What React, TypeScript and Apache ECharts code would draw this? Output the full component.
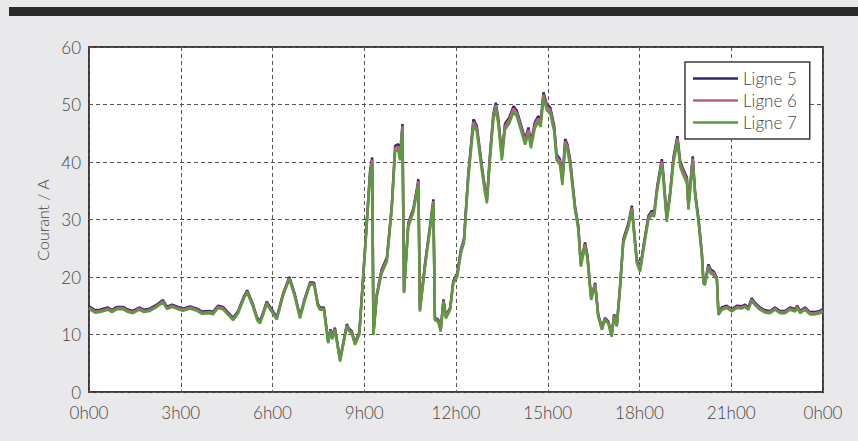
import React, { useEffect, useRef } from "react";
import * as echarts from "echarts";

const xTickLabels = ["0h00", "3h00", "6h00", "9h00", "12h00", "15h00", "18h00", "21h00", "0h00"];
const seriesNames = ["Ligne 5", "Ligne 6", "Ligne 7"];

const times = [
  0.00,0.20,0.36,0.62,0.75,0.92,1.11,1.28,1.44,1.64,
  1.80,1.99,2.19,2.42,2.55,2.71,2.91,3.07,3.30,3.53,
  3.70,3.96,4.05,4.22,4.38,4.55,4.71,4.87,5.07,5.17,
  5.35,5.50,5.59,5.70,5.81,5.97,6.14,6.35,6.55,6.72,
  6.90,7.05,7.23,7.36,7.48,7.55,7.68,7.82,7.90,7.96,
  8.04,8.21,8.43,8.50,8.59,8.70,8.84,9.03,9.19,9.26,
  9.30,9.41,9.57,9.74,9.90,10.01,10.11,10.17,10.25,10.30,
  10.44,10.60,10.72,10.77,10.82,10.99,11.15,11.26,11.31,11.42,
  11.50,11.59,11.67,11.81,11.91,12.04,12.16,12.26,12.40,12.57,
  12.68,12.84,12.95,13.01,13.11,13.22,13.30,13.38,13.50,13.60,
  13.74,13.88,13.99,14.09,14.26,14.37,14.45,14.58,14.69,14.77,
  14.86,14.97,15.08,15.21,15.29,15.40,15.48,15.57,15.64,15.73,
  15.89,16.00,16.08,16.22,16.30,16.38,16.42,16.55,16.65,16.77,
  16.87,16.98,17.09,17.17,17.26,17.36,17.47,17.64,17.75,17.82,
  17.91,18.02,18.13,18.29,18.40,18.48,18.58,18.73,18.78,18.89,
  19.00,19.11,19.24,19.33,19.41,19.55,19.60,19.74,19.82,19.93,
  20.04,20.09,20.14,20.25,20.33,20.42,20.53,20.58,20.69,20.85,
  21.02,21.18,21.34,21.45,21.56,21.67,21.78,21.94,22.11,22.27,
  22.43,22.60,22.76,22.92,23.09,23.16,23.25,23.41,23.57,23.74,
  23.90,24.00,
];

const ligne5 = [
  14.9,14.2,14.3,14.7,14.3,14.8,14.8,14.3,14.1,14.7,
  14.3,14.5,15.1,16.0,14.8,15.2,14.8,14.5,14.9,14.5,
  14.0,14.1,13.9,15.0,14.8,13.8,12.9,14.0,16.7,17.7,
  15.4,12.9,12.3,13.9,15.7,14.4,13.0,17.2,20.0,17.2,
  13.2,16.2,19.1,19.0,15.4,14.7,14.7,8.9,10.9,9.6,
  11.2,5.7,11.8,11.0,10.6,8.6,10.4,25.4,38.4,40.8,
  10.3,17.0,21.3,23.4,32.4,42.8,43.1,41.3,46.6,17.6,
  29.4,31.8,35.3,37.0,14.4,22.5,28.9,33.5,12.9,12.6,
  10.9,16.1,13.2,14.7,19.3,20.7,24.8,26.6,37.9,47.4,
  46.3,39.6,35.3,33.5,41.3,48.3,50.3,47.7,41.3,46.6,
  47.7,49.7,48.9,47.1,44.0,46.0,43.4,46.9,48.0,47.1,
  52.1,50.0,49.5,46.3,41.3,40.5,37.0,44.0,43.1,40.5,
  32.4,28.9,22.5,26.0,23.7,18.7,16.4,19.0,13.5,11.2,
  12.9,12.3,10.0,13.5,11.8,18.1,26.6,29.4,32.4,28.3,
  23.1,21.6,25.4,30.6,31.5,31.2,35.8,40.5,37.9,30.3,
  34.7,40.8,44.5,40.2,39.0,37.3,32.4,41.0,34.7,30.2,
  24.2,19.3,19.0,22.2,21.3,21.0,19.9,13.8,14.7,15.0,
  14.4,15.0,14.9,15.2,14.7,16.3,15.5,14.7,14.2,14.1,
  14.7,14.1,14.1,14.7,14.4,15.0,14.1,14.7,13.9,13.9,
  14.1,14.4,
];

const ligne6 = [
  14.7,14.0,14.1,14.5,14.1,14.6,14.6,14.1,13.9,14.5,
  14.1,14.3,14.9,15.8,14.6,15.0,14.6,14.3,14.7,14.3,
  13.8,13.9,13.7,14.8,14.6,13.6,12.7,13.8,16.5,17.5,
  15.2,12.7,12.1,13.7,15.5,14.2,12.8,17.0,19.8,17.0,
  13.0,16.0,18.9,18.8,15.2,14.5,14.5,8.7,10.7,9.4,
  11.0,5.5,11.6,10.8,10.4,8.4,10.2,25.1,38.0,40.4,
  10.1,16.8,21.0,23.1,32.1,42.4,42.7,40.9,46.2,17.4,
  29.1,31.5,35.0,36.6,14.2,22.2,28.6,33.2,12.7,12.4,
  10.7,15.9,13.0,14.5,19.1,20.4,24.5,26.3,37.5,47.0,
  45.9,39.2,35.0,33.2,40.9,47.9,49.9,47.3,40.9,46.2,
  47.3,49.3,48.5,46.7,43.6,45.6,43.0,46.5,47.6,46.7,
  51.7,49.6,49.1,45.9,40.9,40.1,36.6,43.6,42.7,40.1,
  32.1,28.6,22.2,25.7,23.4,18.5,16.2,18.8,13.3,11.0,
  12.7,12.1,9.8,13.3,11.6,17.9,26.3,29.1,32.1,28.0,
  22.8,21.3,25.1,30.3,31.2,30.9,35.5,40.1,37.5,30.0,
  34.4,40.4,44.1,39.8,38.6,36.9,32.1,40.6,34.4,29.9,
  23.9,19.1,18.8,21.9,21.0,20.7,19.7,13.6,14.5,14.8,
  14.2,14.8,14.7,15.0,14.5,16.1,15.3,14.5,14.0,13.9,
  14.5,13.9,13.9,14.5,14.2,14.8,13.9,14.5,13.7,13.7,
  13.9,14.2,
];

const ligne7 = [
  14.5,13.8,13.9,14.3,13.9,14.4,14.4,13.9,13.7,14.3,
  13.9,14.1,14.7,15.6,14.4,14.8,14.4,14.1,14.5,14.1,
  13.6,13.7,13.5,14.6,14.4,13.4,12.5,13.6,16.3,17.3,
  15.0,12.5,11.9,13.5,15.3,14.0,12.6,16.8,19.6,16.8,
  12.8,15.8,18.7,18.6,15.0,14.3,14.3,8.5,10.5,9.2,
  10.8,5.3,11.4,10.6,10.2,8.2,10.0,24.7,37.4,39.8,
  9.9,16.6,20.6,22.7,31.7,41.8,42.1,40.3,45.6,17.2,
  28.7,31.1,34.6,36.0,14.0,21.8,28.2,32.8,12.5,12.2,
  10.5,15.7,12.8,14.3,18.9,20.0,24.1,25.9,36.9,46.4,
  45.3,38.6,34.6,32.8,40.3,47.3,49.3,46.7,40.3,45.6,
  46.7,48.7,47.9,46.1,43.0,45.0,42.4,45.9,47.0,46.1,
  51.1,49.0,48.5,45.3,40.3,39.5,36.0,43.0,42.1,39.5,
  31.7,28.2,21.8,25.3,23.0,18.3,16.0,18.6,13.1,10.8,
  12.5,11.9,9.6,13.1,11.4,17.7,25.9,28.7,31.7,27.6,
  22.4,20.9,24.7,29.9,30.8,30.5,35.1,39.5,36.9,29.6,
  34.0,39.8,43.5,39.2,38.0,36.3,31.7,40.0,34.0,29.5,
  23.5,18.9,18.6,21.5,20.6,20.3,19.5,13.4,14.3,14.6,
  14.0,14.6,14.5,14.8,14.3,15.9,15.1,14.3,13.8,13.7,
  14.3,13.7,13.7,14.3,14.0,14.6,13.7,14.3,13.5,13.5,
  13.7,14.0,
];

const seriesColors = ["#2b2a6e", "#c25a8c", "#5c9a3e"];
const FONT = "Lato, 'Open Sans', sans-serif";

export default function App() {
  const ref = useRef<HTMLDivElement>(null);
  useEffect(() => {
    if (!ref.current) return;
    const chart = echarts.init(ref.current, null, { renderer: "svg" });
    const valueSets = [ligne5, ligne6, ligne7];
    chart.setOption({
      animation: false,
      backgroundColor: "#e9e9eb",
      textStyle: { fontFamily: FONT, fontWeight: 300 },
      graphic: [
        { type: "rect", shape: { x: 9, y: 7, width: 849, height: 9 }, style: { fill: "#2a2a2a" }, z: 10 },
        {
          type: "text",
          x: 42,
          y: 220,
          rotation: Math.PI / 2,
          style: {
            text: "Courant / A",
            fontSize: 16,
            fontFamily: FONT,
            fontWeight: 300,
            fill: "#444",
            textAlign: "center",
            textVerticalAlign: "middle",
          },
        },
      ],
      grid: {
        left: 89,
        top: 47,
        right: 35,
        bottom: 49,
        show: true,
        backgroundColor: "#ffffff",
        borderColor: "#3c3c3c",
        borderWidth: 2,
      },
      legend: {
        orient: "vertical",
        left: 685,
        top: 62,
        data: seriesNames.map((name) => ({ name, icon: "rect" })),
        itemWidth: 45,
        itemHeight: 2.5,
        itemGap: 5,
        padding: [8, 13, 8, 8],
        backgroundColor: "#ffffff",
        borderColor: "#3c3c3c",
        borderWidth: 1.5,
        borderRadius: 0,
        textStyle: { fontSize: 17, color: "#444", fontFamily: FONT, fontWeight: 300, lineHeight: 17 },
      },
      xAxis: {
        type: "value",
        min: 0,
        max: 24,
        interval: 3,
        axisLine: { show: false },
        axisTick: { show: false },
        axisLabel: {
          fontSize: 17,
          color: "#444",
          margin: 12,
          fontFamily: FONT,
          fontWeight: 300,
          formatter: (v: number) => xTickLabels[Math.round(v / 3)] ?? "",
        },
        splitLine: { show: true, lineStyle: { color: "#555", type: [4, 3], width: 1 } },
      },
      yAxis: {
        type: "value",
        min: 0,
        max: 60,
        interval: 10,
        axisLine: { show: false },
        axisTick: { show: false },
        axisLabel: { fontSize: 17, color: "#444", margin: 8, fontFamily: FONT, fontWeight: 300 },
        splitLine: { show: true, lineStyle: { color: "#555", type: [4, 3], width: 1 } },
      },
      series: seriesNames.map((name, i) => ({
        name,
        type: "line",
        symbol: "none",
        data: times.map((t, j) => [t, valueSets[i][j]]),
        lineStyle: { color: seriesColors[i], width: 2.5 },
        itemStyle: { color: seriesColors[i] },
      })),
    });
    return () => chart.dispose();
  }, []);
  return (
    <div
      ref={ref}
      style={{ position: "absolute", left: 0, top: 0, width: 858, height: 441 }}
    />
  );
}
